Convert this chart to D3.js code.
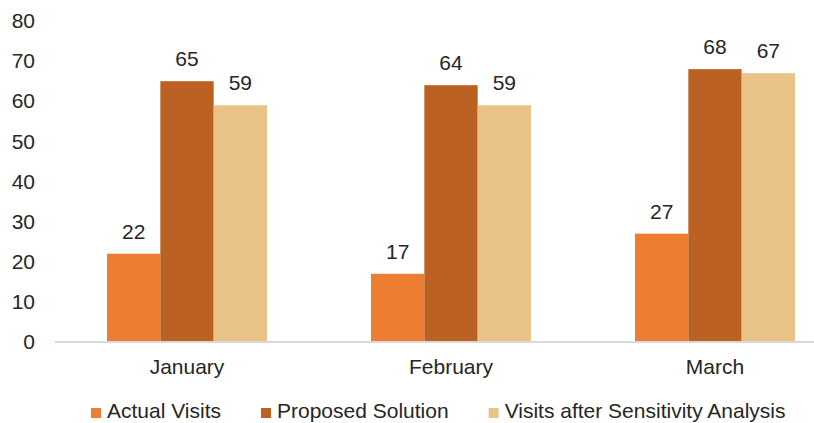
<!DOCTYPE html>
<html>
<head>
<meta charset="utf-8">
<script src="https://cdn.jsdelivr.net/npm/d3@7"></script>
<style>
  html, body { margin: 0; padding: 0; background: #fff; }
  svg { display: block; font-family: "Liberation Sans", Arial, sans-serif; }
</style>
</head>
<body>
<svg id="chart" width="814" height="423"></svg>
<script>
// Monthly visits: actual vs. proposed vs. after sensitivity analysis
const months = ["January", "February", "March"];
const seriesNames = ["Actual Visits", "Proposed Solution", "Visits after Sensitivity Analysis"];
const actualVisits = [22, 17, 27];
const proposedSolution = [65, 64, 68];
const sensitivityVisits = [59, 59, 67];
const yTicks = [0, 10, 20, 30, 40, 50, 60, 70, 80];
const colors = ["#ED7D31", "#BA6123", "#EAC487"];

const seriesValues = [actualVisits, proposedSolution, sensitivityVisits];
const rows = months.map((m, i) => ({
  month: m,
  values: seriesNames.map((s, j) => ({ series: s, value: seriesValues[j][i], idx: j }))
}));

const svg = d3.select("#chart");
const textColor = "#262626";
const fontSize = 21;

// plot area runs past the right edge of the canvas
const x0 = d3.scaleBand().domain(months).range([55, 847]).paddingInner(0.394).paddingOuter(0.197);
const x1 = d3.scaleBand().domain(seriesNames).range([0, x0.bandwidth()]);
const y = d3.scaleLinear().domain([0, 80]).range([342, 21]);

// y axis labels (no line, no ticks)
const yAxis = svg.append("g")
  .attr("transform", "translate(35,0)")
  .call(d3.axisLeft(y).tickValues(yTicks).tickSize(0).tickPadding(0));
yAxis.select(".domain").remove();
yAxis.selectAll("text")
  .attr("font-size", fontSize)
  .attr("font-family", "Liberation Sans, Arial, sans-serif")
  .attr("fill", textColor);

// bars
const groups = svg.append("g").selectAll("g")
  .data(rows).join("g")
  .attr("transform", d => `translate(${x0(d.month)},0)`);

groups.selectAll("rect")
  .data(d => d.values).join("rect")
  .attr("x", d => x1(d.series))
  .attr("y", d => y(d.value))
  .attr("width", x1.bandwidth())
  .attr("height", d => y(0) - y(d.value))
  .attr("fill", d => colors[d.idx]);

// value labels
groups.selectAll("text.val")
  .data(d => d.values).join("text")
  .attr("class", "val")
  .attr("x", d => x1(d.series) + x1.bandwidth() / 2)
  .attr("y", d => y(d.value) - 15)
  .attr("text-anchor", "middle")
  .attr("font-size", fontSize)
  .attr("fill", textColor)
  .text(d => d.value);

// x axis baseline and category labels
const xAxis = svg.append("g")
  .attr("transform", `translate(0,${y(0)})`)
  .call(d3.axisBottom(x0).tickSize(0).tickPadding(0));
xAxis.select(".domain").remove();
xAxis.append("line")
  .attr("x1", 55).attr("x2", 847)
  .attr("y1", 0).attr("y2", 0)
  .attr("stroke", "#d9d9d9").attr("stroke-width", 2);
xAxis.selectAll(".tick text")
  .attr("dy", null)
  .attr("y", 32)
  .attr("font-size", fontSize)
  .attr("font-family", "Liberation Sans, Arial, sans-serif")
  .attr("fill", textColor);

// legend
const legend = svg.append("g").attr("transform", "translate(91,0)");
let lx = 0;
seriesNames.forEach((name, i) => {
  const item = legend.append("g").attr("transform", `translate(${lx},0)`);
  item.append("rect")
    .attr("x", 0).attr("y", 408)
    .attr("width", 10).attr("height", 10)
    .attr("fill", colors[i]);
  const t = item.append("text")
    .attr("x", 16).attr("y", 418)
    .attr("font-size", fontSize)
    .attr("fill", textColor)
    .text(name);
  lx += 16 + t.node().getComputedTextLength() + 40;
});
</script>
</body>
</html>
